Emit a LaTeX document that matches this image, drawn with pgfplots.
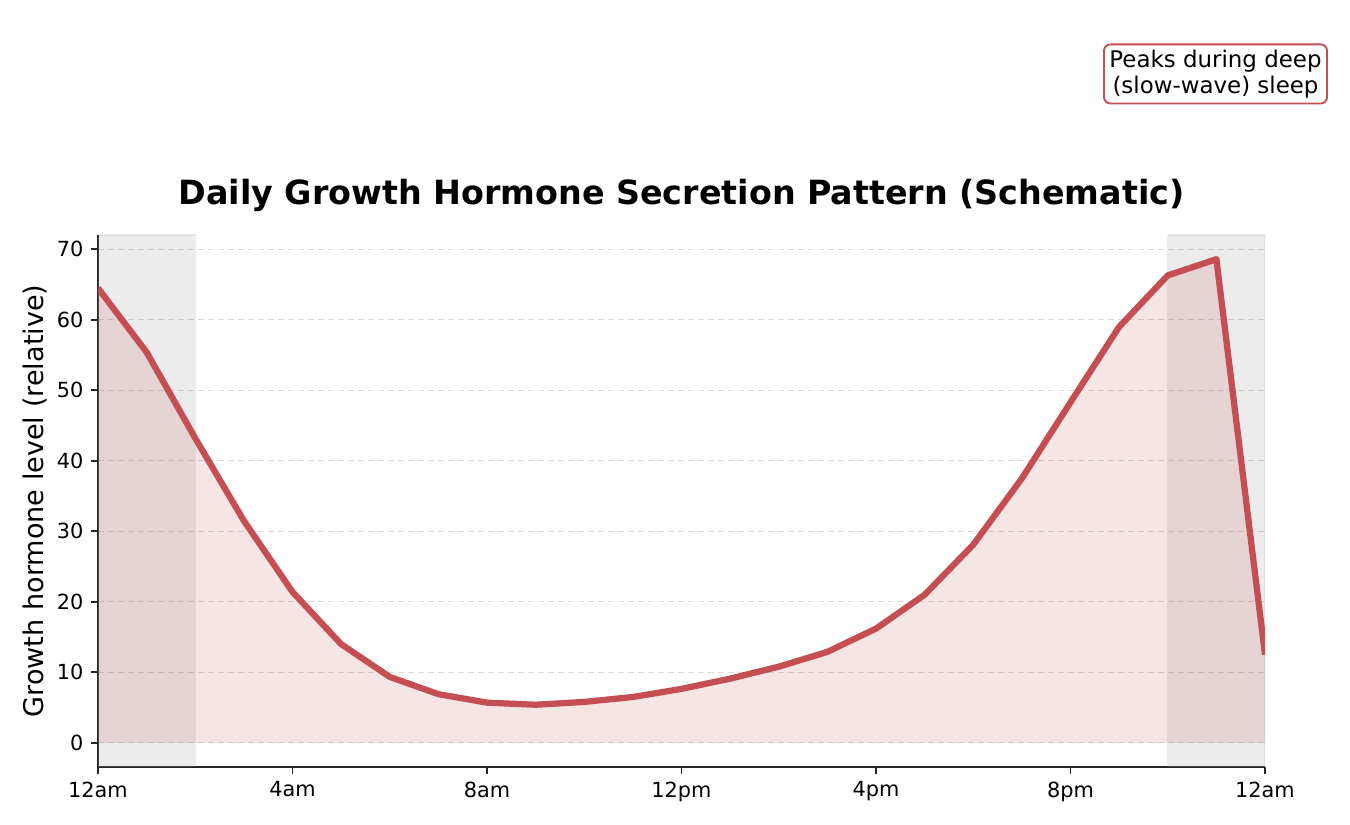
\documentclass[border=0pt]{standalone}
\usepackage{pgfplots}
\pgfplotsset{compat=1.18}
\usepackage{fontspec}
\setmainfont{DejaVu Sans}
\definecolor{gh}{HTML}{C44E52}
\definecolor{spine}{HTML}{262626}
\pgfplotstableread{
x y
0 64.5
1 55.4
2 43.2
3 31.5
4 21.4
5 14.0
6 9.35
7 6.9
8 5.7
9 5.4
10 5.8
11 6.5
12 7.65
13 9.1
14 10.8
15 12.9
16 16.2
17 21.0
18 28.1
19 37.5
20 48.3
21 59.0
22 66.3
23 68.6
24 12.5
}\ghdata
\begin{document}
\begin{tikzpicture}
\useasboundingbox (0pt,0pt) rectangle (648pt,396pt);
\begin{axis}[
  at={(47.04pt,27.84pt)}, anchor=south west,
  scale only axis, width=560.16pt, height=255.36pt,
  xmin=0, xmax=24, ymin=-3.43, ymax=72.03,
  axis x line*=bottom, axis y line*=left,
  axis line style={-, spine, line width=0.8pt},
  xtick={0,4,...,24},
  xticklabels={12am,4am,8am,12pm,4pm,8pm,12am},
  ytick={0,10,...,70},
  tick align=outside, major tick length=3.5pt,
  tick style={spine, line width=0.8pt},
  ticklabel style={font=\fontsize{10}{12}\selectfont, text=black},
  /pgf/number format/assume math mode=true,
  ymajorgrids, xmajorgrids=false,
  major grid style={gray!30, dash pattern=on 3pt off 1.8pt, line width=0.6pt},
  ylabel={Growth hormone level (relative)},
  ylabel style={at={(axis description cs:-0.054,0.5)}, anchor=center, font=\fontsize{13}{15}\selectfont},
  clip=true,
]
\addplot[fill=gray, fill opacity=0.15, draw=gray, draw opacity=0.15, line width=0.6pt] coordinates {(0,-3.43) (0,72.03) (2,72.03) (2,-3.43)} -- cycle;
\addplot[fill=gray, fill opacity=0.15, draw=gray, draw opacity=0.15, line width=0.6pt] coordinates {(22,-3.43) (22,72.03) (24,72.03) (24,-3.43)} -- cycle;
\addplot[fill=gh, fill opacity=0.15, draw=none] table[x=x,y=y]{\ghdata} \closedcycle;
\addplot[gh, line width=3pt, line join=round] table[x=x,y=y]{\ghdata};
\end{axis}
\node[anchor=base, font=\bfseries\fontsize{16}{19}\selectfont] at (327.12pt,297.6pt) {Daily Growth Hormone Secretion Pattern (Schematic)};
\node[draw=gh, line width=0.9pt, rounded corners=3pt, fill=white, align=center,
  font=\fontsize{11}{12.5}\selectfont, inner sep=2.6pt] at (583.44pt,360.5pt) {Peaks during deep\\(slow-wave) sleep};
\end{tikzpicture}
\end{document}
